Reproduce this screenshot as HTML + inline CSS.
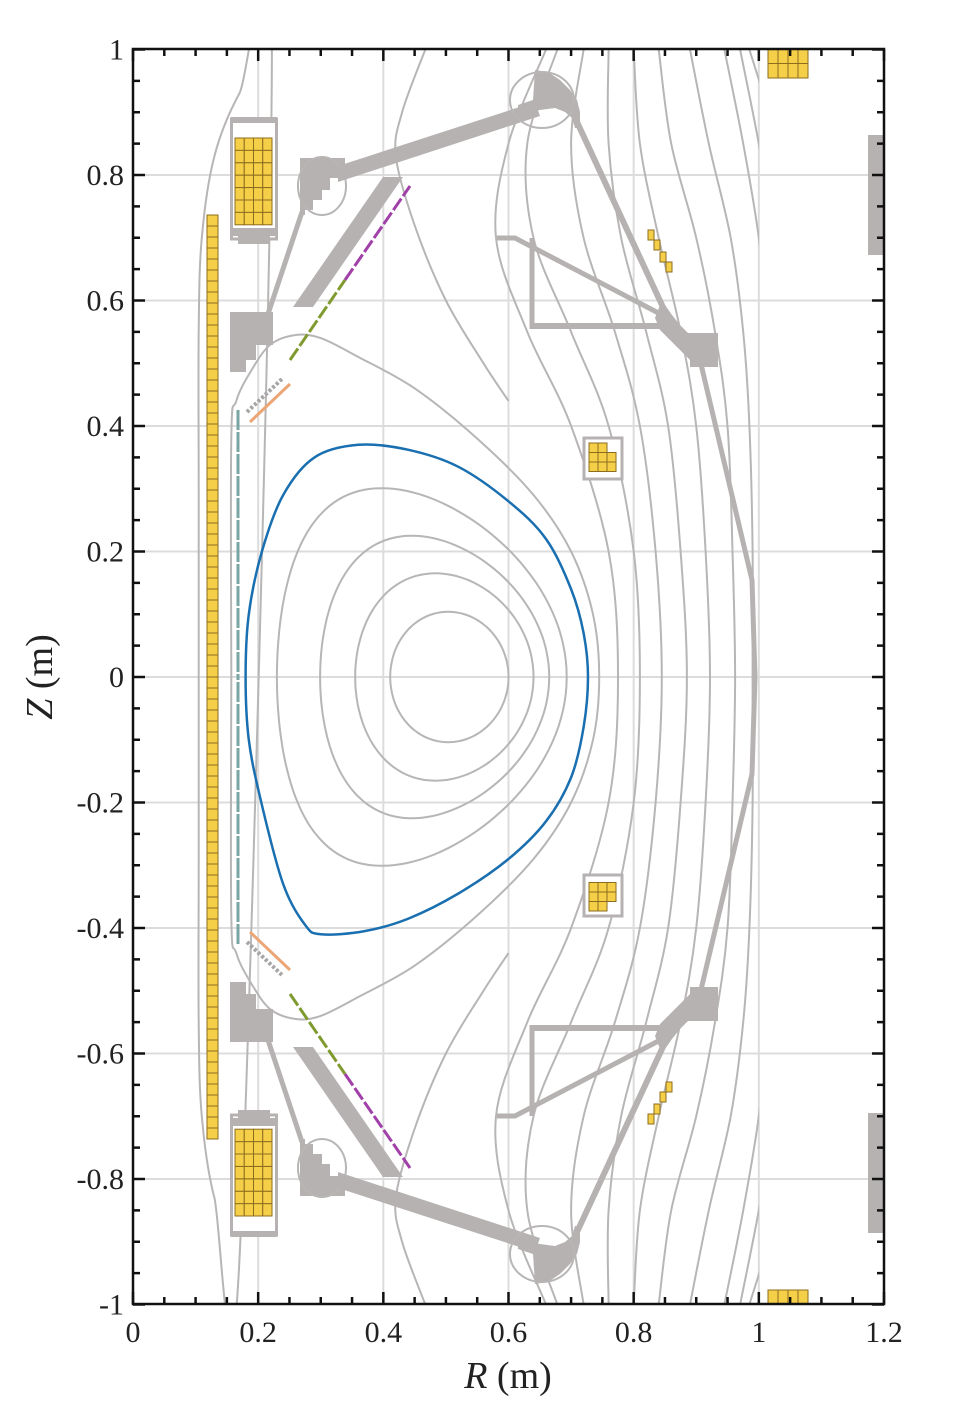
<!DOCTYPE html>
<html><head><meta charset="utf-8">
<style>
html,body{margin:0;padding:0;background:#fff;}
svg{display:block;}
text{font-family:"Liberation Serif",serif;fill:#222;}
</style></head>
<body>
<svg id="chart" width="962" height="1426" viewBox="0 0 962 1426" xmlns="http://www.w3.org/2000/svg">
<defs>
<clipPath id="plotclip"><rect x="133" y="49" width="751" height="1255"/></clipPath>
<clipPath id="vesselclip"><rect x="133" y="49" width="626" height="1255"/></clipPath>
</defs>
<g id="grid"></g>
<g id="contours" clip-path="url(#vesselclip)"></g>
<g id="structs" clip-path="url(#plotclip)"></g>
<g id="lcfs"></g>
<g id="axes"></g>
</svg>
<script>
// ---------- data ----------
var xTicks=[0,0.2,0.4,0.6,0.8,1,1.2];
var xTickLabels=["0","0.2","0.4","0.6","0.8","1","1.2"];
var yTicks=[1,0.8,0.6,0.4,0.2,0,-0.2,-0.4,-0.6,-0.8,-1];
var yTickLabels=["1","0.8","0.6","0.4","0.2","0","-0.2","-0.4","-0.6","-0.8","-1"];
// closed flux surfaces (D-shape params)
var surfR0=[0.5055,0.4975,0.482,0.4615];
var surfA=[0.0945,0.1425,0.183,0.2315];
var surfKappa=[1.1,1.16,1.23,1.3];
var surfDelta=[0.02,0.1,0.2,0.28];
// plasma boundary (R,Z)
var lcfsR=[0.36,0.44,0.52,0.6,0.66,0.7,0.72,0.727,0.72,0.7,0.66,0.6,0.52,0.44,0.37,0.3,0.275,0.24,0.205,0.185,0.18,0.185,0.206,0.24,0.29];
var lcfsZ=[0.37,0.362,0.335,0.28,0.22,0.14,0.07,0,-0.08,-0.16,-0.23,-0.29,-0.345,-0.385,-0.405,-0.41,-0.395,-0.33,-0.2,-0.1,0,0.1,0.2,0.29,0.35];
// open field lines: R at fixed Z grid (upper half, mirrored)
var openZ=[0,0.2,0.4,0.55,0.7,0.85,1.0];
var openA=[0.775,0.76,0.70,0.63,0.58,0.60,0.66];
var openB=[0.81,0.80,0.76,0.70,0.64,0.63,0.678];
var openC=[0.845,0.835,0.81,0.77,0.72,0.70,0.72];
var openD=[0.885,0.875,0.855,0.82,0.78,0.76,0.76];
var openE=[0.922,0.915,0.90,0.875,0.84,0.81,0.80];
var openF=[0.962,0.958,0.95,0.93,0.90,0.86,0.84];
var openG=[0.99,0.99,0.985,0.975,0.955,0.92,0.89];
var openH=[1.03,1.03,1.025,1.015,1.0,0.975,0.945];
var openI=[1.06,1.06,1.05,1.04,1.025,1.0,0.97];
var openJ=[1.1,1.1,1.09,1.08,1.06,1.03,0.985];
// separatrix-like line (R,Z upper half)
var sepR=[0.745,0.735,0.7,0.64,0.55,0.45,0.36,0.3,0.26,0.22,0.19,0.165,0.157,0.157];
var sepZ=[0,0.1,0.2,0.29,0.38,0.46,0.51,0.54,0.545,0.53,0.49,0.44,0.38,0];
// outer left line
var leftR=[0.222,0.17,0.13,0.11,0.105,0.105,0.105];
var leftZ=[1.0,0.93,0.83,0.7,0.55,0.3,0];
// upper-middle line
var midR=[0.467,0.43,0.42,0.45,0.5,0.56,0.6];
var midZ=[1.0,0.9,0.83,0.72,0.6,0.5,0.44];

// ---------- scales ----------
function X(r){return 133+r*625.833;}
function Y(z){return 677-z*627.5;}
var NS="http://www.w3.org/2000/svg";
function mk(tag,attrs,parent){var e=document.createElementNS(NS,tag);for(var k in attrs)e.setAttribute(k,attrs[k]);parent.appendChild(e);return e;}
function smooth(pts,closed){
  var n=pts.length,d="M"+pts[0][0].toFixed(1)+","+pts[0][1].toFixed(1);
  var last=closed?n:n-1;
  for(var i=0;i<last;i++){
    var p0=pts[(i-1+n)%n],p1=pts[i],p2=pts[(i+1)%n],p3=pts[(i+2)%n];
    if(!closed){if(i==0)p0=p1;if(i+2>=n)p3=p2;}
    var c1=[p1[0]+(p2[0]-p0[0])/6,p1[1]+(p2[1]-p0[1])/6];
    var c2=[p2[0]-(p3[0]-p1[0])/6,p2[1]-(p3[1]-p1[1])/6];
    d+="C"+c1[0].toFixed(1)+","+c1[1].toFixed(1)+" "+c2[0].toFixed(1)+","+c2[1].toFixed(1)+" "+p2[0].toFixed(1)+","+p2[1].toFixed(1);
  }
  return d+(closed?"Z":"");
}
var CC="#b8b5b5";
var grid=document.getElementById('grid');
[0.2,0.4,0.6,0.8,1.0].forEach(function(r){
  var l=mk('line',{x1:X(r),x2:X(r),y1:49,y2:1304,stroke:"#dcdcdc","stroke-width":2},grid);
  
  
});
[0.8,0.6,0.4,0.2,0,-0.2,-0.4,-0.6,-0.8].forEach(function(z){
  var l=mk('line',{x1:133,x2:884,y1:Y(z),y2:Y(z),stroke:"#dcdcdc","stroke-width":2},grid);
  
  
});
var cg=document.getElementById('contours');
for(var i=0;i<surfR0.length;i++){
  var pts=[];
  for(var k=0;k<72;k++){var t=k/72*2*Math.PI;
    pts.push([X(surfR0[i]+surfA[i]*Math.cos(t+surfDelta[i]*Math.sin(t))),Y(surfKappa[i]*surfA[i]*Math.sin(t))]);}
  var p=mk('path',{d:smooth(pts,true),fill:"none",stroke:CC,"stroke-width":2},cg);
  
  
}
function mirrorLine(Rs,Zs){
  var pts=[];
  for(var j=Rs.length-1;j>=0;j--)pts.push([X(Rs[j]),Y(Zs[j])]);
  for(var j=1;j<Rs.length;j++)pts.push([X(Rs[j]),Y(-Zs[j])]);
  return pts;
}
[openA,openB,openC,openD,openE,openF,openG,openH,openI,openJ].forEach(function(arr){
  var p=mk('path',{d:smooth(mirrorLine(arr,openZ),false),fill:"none",stroke:CC,"stroke-width":2},cg);
  
  
});
[[sepR,sepZ],[leftR,leftZ]].forEach(function(s){
  var p=mk('path',{d:smooth(mirrorLine(s[0],s[1]),false),fill:"none",stroke:CC,"stroke-width":2},cg);
  
  
});
[1,-1].forEach(function(sg){
  var pts=midR.map(function(r,j){return [X(r),Y(sg*midZ[j])];});
  var p=mk('path',{d:smooth(pts,false),fill:"none",stroke:CC,"stroke-width":2},cg);
  
  
});
var lg=document.getElementById('lcfs');
var bpts=lcfsR.map(function(r,j){return [X(r),Y(lcfsZ[j])];});
var bp=mk('path',{d:smooth(bpts,true),fill:"none",stroke:"#1a6fb0","stroke-width":2.5},lg);



// ---------- structures ----------
var sg=document.getElementById('structs');
var G="#b6b2b2",YF="#f6cf48",YS="#8c6d1e";
function half(parent,lower){
  var h=mk('g',{},parent);
  function poly(pts,name){var e=mk('polygon',{points:pts,fill:G},h);}
  function line(x1,y1,x2,y2,w,col,name,dash){var e=mk('line',{x1:x1,y1:y1,x2:x2,y2:y2,stroke:col||G,"stroke-width":w},h);if(dash)e.setAttribute('stroke-dasharray',dash);}
  function cells(x0,y0,cols,rows,w,hh,name,skip){
    for(var c=0;c<cols;c++)for(var r=0;r<rows;r++){
      if(skip&&skip(c,r))continue;
      var e=mk('rect',{x:x0+c*w,y:y0+r*hh,width:w,height:hh,fill:YF,stroke:YS,"stroke-width":1},h);
      }
  }
  var b=mk('rect',{x:231.5,y:119,width:45,height:120,fill:"#fff",stroke:G,"stroke-width":3},h);
  
  mk('rect',{x:231,y:117,width:46,height:6,fill:G},h);
  mk('rect',{x:233,y:228,width:42,height:8,fill:G},h);
  mk('rect',{x:238,y:234,width:32,height:10,fill:G},h);
  cells(235,138,4,7,9.25,12.4,'pf-coil-winding');
  poly("230,312 273,312 273,345 256,345 256,360 246,360 246,372 230,372",'divertor-block');
  line(268,314,302,212,5,null,'support-strut');
  poly("300,158 345,158 345,178 330,178 330,190 322,190 322,200 313,200 313,210 305,210 305,215 300,215",'upper-stepped-block');
  var el=mk('ellipse',{cx:322,cy:186,rx:24,ry:29,fill:"none",stroke:CC,"stroke-width":2},h);
  
  poly("338,166 535,102 540,116 338,182",'top-support-beam');
  poly("383,177 403,177 313,307 293,307",'baffle-plate');
  poly("535,70 548,72 560,80 570,90 577,100 580,112 580,128 575,128 572,118 565,112 555,108 540,110 525,113 518,113 518,105 533,100",'top-corner-block');
  var e2=mk('ellipse',{cx:542,cy:100,rx:32,ry:28,fill:"none",stroke:CC,"stroke-width":2},h);
  
  line(577,122,668,318,6,null,'outer-strut');
  poly("660,305 665,305 672,315 680,325 688,333 718,333 718,367 690,367 690,360 680,350 670,340 660,330 655,318",'outer-divertor-block');
  var pl=mk('polyline',{points:"497,238 515,238 668,318",fill:"none",stroke:G,"stroke-width":5},h);
  
  line(532,238,532,329,5,null,'passive-plate-vertical');
  line(530,326,666,326,6,null,'passive-plate-horizontal');
  var wl=mk('polyline',{points:"700,360 752,580 755,677",fill:"none",stroke:G,"stroke-width":5},h);
  
  if(!lower)cells(768,49,4,2,10,14.5,'outer-pf-coil');
  else cells(768,49,4,1,10,15,'outer-pf-coil');
  [[648,230],[654,240],[660,252],[666,262]].forEach(function(c){cells(c[0],c[1],1,1,6,10,'shaping-coil');});
  var bx=mk('rect',{x:584,y:438,width:38,height:41,fill:"#fff",stroke:G,"stroke-width":3},h);
  
  cells(589,443,3,3,9,9.5,'midplane-coil',function(c,r){return c==2&&r==0;});
  line(345,280,410,186,3,"#a040a8",'diagnostic-purple',"14,3");
  line(290,360,345,280,3,"#7f9a2e",'diagnostic-green',"14,3");
  line(250,422,290,384,3,"#eca676",'diagnostic-orange');
  line(247,412,283,378,4,"#a6a6a6",'diagnostic-comb',"3,2");
  line(238,410,238,677,3,"#7aa5a5",'diagnostic-teal',"20,2");
  return h;
}
half(sg,false);
var low=half(sg,true);
low.setAttribute('transform','matrix(1,0,0,-1,0,1354)');
for(var yy=215;yy<1139;yy+=11){
  var c=mk('rect',{x:207,y:yy,width:11,height:Math.min(11,1139-yy),fill:YF,stroke:YS,"stroke-width":1},sg);
  
  
}
[[135],[1113]].forEach(function(v){
  var r=mk('rect',{x:868,y:v[0],width:16,height:120,fill:G},sg);
  
  
});

// ---------- axes ----------
var ax=document.getElementById('axes');
var fr=mk('rect',{x:133,y:49,width:751,height:1255,fill:"none",stroke:"#111","stroke-width":2.5},ax);

for(var k=0;k<=24;k++){
  var r=k*0.05,x=X(r),L=(k%4==0)?12:7;
  mk('line',{x1:x,x2:x,y1:1304,y2:1304-L,stroke:"#111","stroke-width":2.5},ax);
  mk('line',{x1:x,x2:x,y1:49,y2:49+L,stroke:"#111","stroke-width":2.5},ax);
}
for(var k=0;k<=40;k++){
  var z=-1+k*0.05,y=Y(z),L=(k%4==0)?12:7;
  mk('line',{x1:133,x2:133+L,y1:y,y2:y,stroke:"#111","stroke-width":2.5},ax);
  mk('line',{x1:884,x2:884-L,y1:y,y2:y,stroke:"#111","stroke-width":2.5},ax);
}
xTicks.forEach(function(r,i){
  var t=mk('text',{x:X(r),y:1342,"text-anchor":"middle","font-size":30},ax);
  t.textContent=xTickLabels[i];
  
  
});
yTicks.forEach(function(z,i){
  var t=mk('text',{x:124,y:Y(z)+10,"text-anchor":"end","font-size":30},ax);
  t.textContent=yTickLabels[i];
  
  
});
var xt=mk('text',{x:508,y:1388,"text-anchor":"middle","font-size":38},ax);
xt.innerHTML='<tspan font-style="italic">R</tspan> (m)';


var yt=mk('text',{x:0,y:0,"text-anchor":"middle","font-size":38,transform:"translate(52,677) rotate(-90)"},ax);
yt.innerHTML='<tspan font-style="italic">Z</tspan> (m)';


</script>
</body></html>
